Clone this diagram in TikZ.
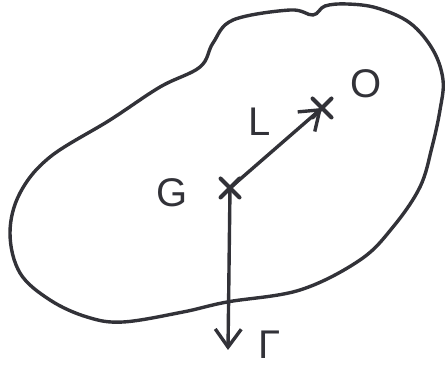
\documentclass[tikz,border=0pt]{standalone}
\usepackage{fontspec}
\setmainfont{Liberation Sans}
\usepackage{tikz}
\usetikzlibrary{arrows.meta,positioning,shapes.misc}
\definecolor{ink}{RGB}{50,50,56}

\begin{document}
\begin{tikzpicture}[
  x=1pt, y=-1pt,
  line width=3.4pt, ink, line cap=round, line join=round,
  ptmark/.style={cross out, draw, minimum size=15pt, inner sep=0pt, line width=4pt},
  lbl/.style={font=\fontsize{40}{40}\selectfont, text=ink},
  vec/.style={-{Straight Barb[length=18pt,width=26pt,line width=3.4pt]}}
]
\useasboundingbox (0,0) rectangle (445,374);
% body outline
\draw plot[smooth cycle, tension=0.6] coordinates {
  (325,6) (313,15) (290,10) (233,20) (213,43) (200,67) (160,87)
  (110,120) (50,157) (20,193) (10,233) (20,273) (50,300) (87,317)
  (123,322) (183,312) (227,302) (300,290) (360,260) (393,227)
  (420,187) (432,147) (440,110) (443,80) (433,50) (410,23) (377,8) (347,4)};
% points
\node[ptmark] (G) at (230,188) {};
\node[ptmark] (O) at (322,108) {};
\coordinate (W) at (228,350);
% vectors
\draw[vec] (G.center) -- (O.center);
\draw[vec] (G.center) -- (W);
% labels
\node[lbl] (gl) at (172,193) {G};
\node[lbl] (ll) at (260,122) {L};
\node[lbl] (ol) at (366,84) {O};
\node[lbl] (wl) at (270,345) {Γ};
\end{tikzpicture}
\end{document}
